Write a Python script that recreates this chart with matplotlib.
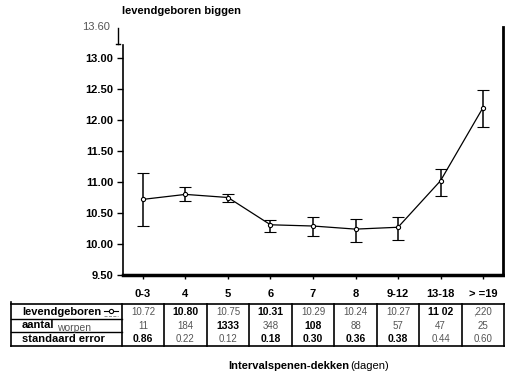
import matplotlib
matplotlib.use("Agg")
import matplotlib.pyplot as plt
from matplotlib.transforms import blended_transform_factory
from matplotlib.lines import Line2D

plt.rcParams['font.family'] = ['Liberation Sans', 'DejaVu Sans']

# data
categories = ["0-3", "4", "5", "6", "7", "8", "9-12", "13-18", "> =19"]
mean_born = [10.72, 10.80, 10.75, 10.31, 10.29, 10.24, 10.27, 11.02, 12.20]
err_low = [10.29, 10.70, 10.68, 10.20, 10.13, 10.04, 10.06, 10.78, 11.88]
err_high = [11.15, 10.92, 10.81, 10.39, 10.43, 10.40, 10.44, 11.21, 12.49]

row_born = ["10.72", "10.80", "10.75", "10.31", "10.29", "10.24", "10.27", "11 02", ",220"]
row_litters = ["11", "184", "1333", "348", "108", "88", "57", "47", "25"]
row_se = ["0.86", "0.22", "0.12", "0.18", "0.30", "0.36", "0.38", "0.44", "0.60"]
# which cells came out bold in the scan
bold_born = [0, 1, 0, 1, 0, 0, 0, 1, 0]
bold_litters = [0, 0, 1, 0, 1, 0, 0, 0, 0]
bold_se = [1, 0, 0, 1, 1, 1, 1, 0, 0]

W, H = 506, 379
fig = plt.figure(figsize=(W / 100, H / 100), dpi=100)

def fy(py):
    return 1 - py / H

ax = fig.add_axes([123 / W, fy(275), (503 - 123) / W, (275 - 27) / H])
x = list(range(len(categories)))
lo = [m - l for m, l in zip(mean_born, err_low)]
hi = [h - m for m, h in zip(mean_born, err_high)]
ax.errorbar(x, mean_born, yerr=[lo, hi], color='black', lw=0.9, elinewidth=1.1,
            capsize=4.3, capthick=1.1, marker='o', ms=3, mfc='white', mec='black', mew=0.8)

ax.set_xlim(-0.47, 8.47)
ax.set_ylim(9.5, 13.5)
yt = [9.5, 10.0, 10.5, 11.0, 11.5, 12.0, 12.5, 13.0]
ax.set_yticks(yt)
ax.set_yticklabels(["%.2f" % v for v in yt], fontweight='bold', fontsize=8)
ax.set_xticks(x)
ax.set_xticklabels(categories, fontweight='bold', fontsize=8)
ax.tick_params(axis='y', length=4, width=1, pad=3)
ax.tick_params(axis='x', length=3, width=1, pad=7)

ax.spines['top'].set_visible(False)
ax.spines['left'].set_bounds(9.5, 13.21)
ax.spines['left'].set_linewidth(1.2)
ax.spines['right'].set_linewidth(2)
ax.spines['bottom'].set_linewidth(2.5)

# axis break marker and top label
tr = blended_transform_factory(fig.transFigure, ax.transData)
ax.plot([118 / W, 118 / W], [13.23, 13.49], color='black', lw=1, transform=tr, clip_on=False)
ax.plot([116 / W, 120 / W], [13.23, 13.23], color='black', lw=1, transform=tr, clip_on=False)
ax.text(110 / W, 13.5, "13.60", transform=tr, ha='right', va='center', fontsize=8, color='#555555')

fig.text(122 / W, fy(11), "levendgeboren biggen", fontweight='bold', fontsize=8, va='center')

# table under the chart
tt = blended_transform_factory(ax.transData, fig.transFigure)
rows = [(row_born, bold_born, 312), (row_litters, bold_litters, 326), (row_se, bold_se, 339)]
for vals, bolds, py in rows:
    for i, (v, b) in enumerate(zip(vals, bolds)):
        ax.text(i, fy(py), v, transform=tt, ha='center', va='center', fontsize=7.5 if b else 7,
                fontweight='bold' if b else 'normal', color='black' if b else '#555555',
                clip_on=False)

for i in range(len(categories) + 1):
    fig.add_artist(Line2D([i - 0.5, i - 0.5], [fy(304), fy(346)], color='black',
                          lw=1.2, transform=tt))

fig.add_artist(Line2D([11 / W, 505 / W], [fy(304), fy(304)], color='black', lw=1.2))
fig.add_artist(Line2D([11 / W, 505 / W], [fy(346), fy(346)], color='black', lw=1.2))
fig.add_artist(Line2D([11 / W, 122 / W], [fy(319), fy(319)], color='black', lw=1))
fig.add_artist(Line2D([11 / W, 122 / W], [fy(332), fy(332)], color='black', lw=1))
fig.add_artist(Line2D([11 / W, 11 / W], [fy(302), fy(346)], color='black', lw=1.2))

fig.text(22 / W, fy(312), "levendgeboren", fontweight='bold', fontsize=8, va='center')
fig.add_artist(Line2D([104 / W, 118 / W], [fy(311), fy(311)], color='black', lw=0.8))
fig.add_artist(Line2D([111 / W], [fy(311)], color='black', marker='o', ms=3, mfc='white', mew=0.8))
fig.add_artist(Line2D([104 / W, 118 / W], [fy(316), fy(316)], color='#777777', lw=0.6, ls='--'))
fig.text(22 / W, fy(325), "aantal", fontweight='bold', fontsize=8, va='center')
fig.text(57 / W, fy(328), "worpen", fontsize=7.5, va='center', color='#555555')
fig.text(22 / W, fy(339), "standaard error", fontweight='bold', fontsize=8, va='center')

fig.text(228 / W, fy(366), "Intervalspenen-dekken", fontweight='bold', fontsize=8, va='center')
fig.text(350 / W, fy(366), "(dagen)", fontsize=8, va='center')

fig.savefig("out.png", dpi=100)
